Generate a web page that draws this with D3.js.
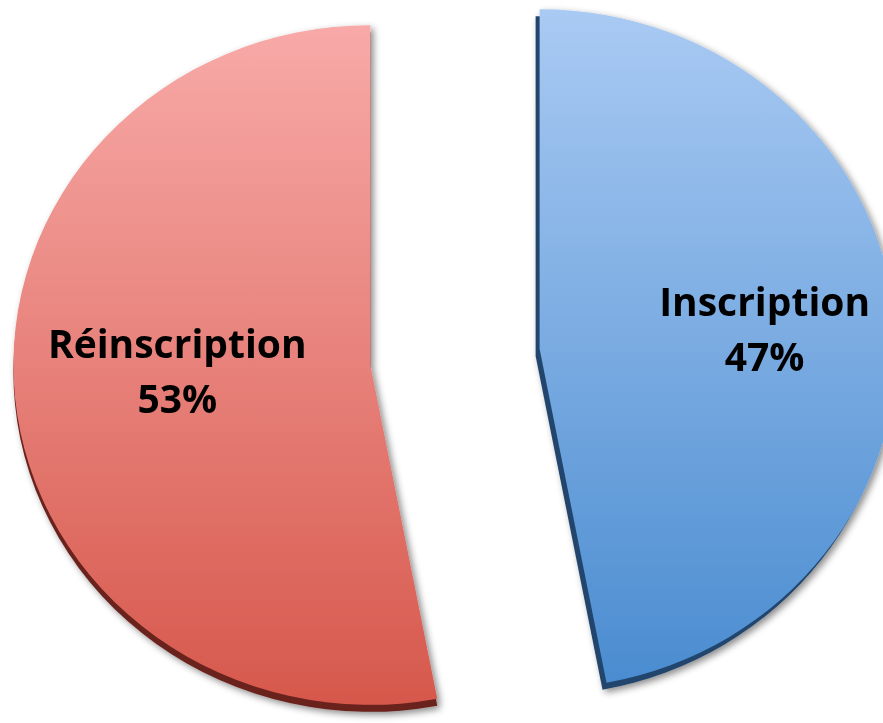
<!DOCTYPE html>
<html>
<head>
<meta charset="utf-8">
<script src="https://cdn.jsdelivr.net/npm/d3@7"></script>
<style>
  body { margin: 0; background: #fff; }
  svg { display: block; }
</style>
</head>
<body>
<div id="pie-chart"></div>
<script>
const width = 883;
const height = 723;

// data
const categories = ['Inscription', 'Réinscription'];
const percents = [47, 53];

// styles
const topColors = ['#a9caf3', '#f8aaa8'];
const bottomColors = ['#4a8cd0', '#d6584c'];
const edgeColors = ['#22456d', '#6b221d'];
const edgeOffsets = [[-4, 7], [0, 7]];
const labelRadius = [226, 194];
const labelDy = [0, -11];

const center = [455, 357];
const radius = 357;
const squash = 0.952;
const explode = 85;

const svg = d3
  .select('#pie-chart')
  .append('svg')
  .attr('width', width)
  .attr('height', height);

const defs = svg.append('defs');

const filter = defs
  .append('filter')
  .attr('id', 'shadow')
  .attr('x', '-10%')
  .attr('y', '-10%')
  .attr('width', '120%')
  .attr('height', '120%');
filter
  .append('feDropShadow')
  .attr('dx', 3)
  .attr('dy', 3)
  .attr('stdDeviation', 3.5)
  .attr('flood-color', '#000')
  .attr('flood-opacity', 0.45);

categories.forEach((c, i) => {
  const g = defs
    .append('linearGradient')
    .attr('id', 'grad' + i)
    .attr('x1', 0)
    .attr('y1', 0)
    .attr('x2', 0)
    .attr('y2', 1);
  g.append('stop').attr('offset', '0%').attr('stop-color', topColors[i]);
  g.append('stop').attr('offset', '100%').attr('stop-color', bottomColors[i]);
});

const pie = d3.pie().sort(null).value((d) => d.value);
const arcs = pie(categories.map((c, i) => ({ name: c, value: percents[i] })));

const arc = d3.arc().innerRadius(0).outerRadius(radius);

const slices = svg
  .selectAll('g.slice')
  .data(arcs)
  .enter()
  .append('g')
  .attr('class', 'slice')
  .attr('filter', 'url(#shadow)')
  .attr('transform', (d) => {
    const mid = (d.startAngle + d.endAngle) / 2;
    const x = center[0] + Math.sin(mid) * explode;
    const y = center[1] - Math.cos(mid) * explode;
    return `translate(${x}, ${y})`;
  });

// dark extruded side
slices
  .append('path')
  .attr('transform', (d) => `translate(${edgeOffsets[d.index]}) scale(1, ${squash})`)
  .attr('fill', (d) => edgeColors[d.index])
  .attr('d', arc);

// top face
slices
  .append('path')
  .attr('transform', `scale(1, ${squash})`)
  .attr('fill', (d) => `url(#grad${d.index})`)
  .attr('d', arc);

// labels
const labels = slices
  .append('text')
  .attr('text-anchor', 'middle')
  .attr('font-family', '"Open Sans", Lato, sans-serif')
  .attr('font-weight', 'bold')
  .attr('font-size', 39)
  .attr('fill', '#000')
  .attr('transform', (d) => {
    const mid = (d.startAngle + d.endAngle) / 2;
    const r = labelRadius[d.index];
    const y = -Math.cos(mid) * r * squash + labelDy[d.index];
    return `translate(${Math.sin(mid) * r}, ${y})`;
  });

labels
  .append('tspan')
  .attr('x', 0)
  .attr('y', -13)
  .text((d) => d.data.name);

labels
  .append('tspan')
  .attr('x', 0)
  .attr('y', 42)
  .text((d) => d.data.value + '%');
</script>
</body>
</html>
